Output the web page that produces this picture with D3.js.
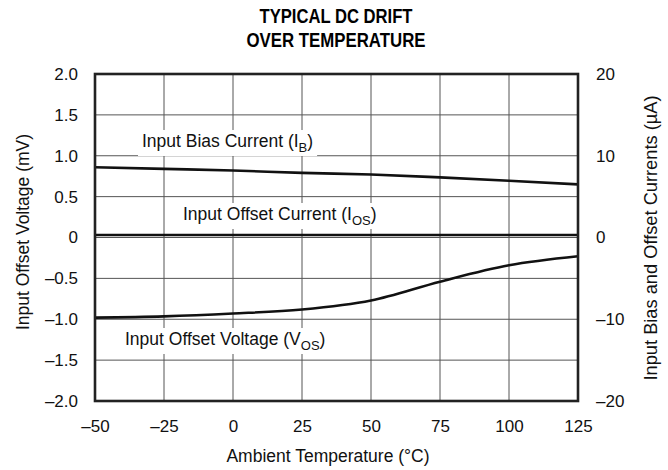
<!DOCTYPE html>
<html>
<head>
  <meta charset="UTF-8">
  <style>
    body { margin: 0; background: #fff; }
    svg { font-family: "Liberation Sans", Arial, sans-serif; }
  </style>
</head>
<body>
<svg></svg>
<script src="https://d3js.org/d3.v7.min.js"></script>
<script>

let width = 668, height = 470;

// temperature (°C)
let temps = [-50, -25, 0, 25, 50, 75, 100, 125];
// input bias current IB (µA, right axis)
let biasCurrent = [8.6, 8.4, 8.2, 7.9, 7.7, 7.35, 6.95, 6.5];
// input offset current IOS (µA, right axis)
let offsetCurrent = [0.3, 0.3, 0.3, 0.3, 0.3, 0.3, 0.3, 0.3];
// input offset voltage VOS (mV, left axis)
let offsetVoltage = [-0.98, -0.965, -0.93, -0.88, -0.77, -0.54, -0.34, -0.23];

let xTicks = [-50, -25, 0, 25, 50, 75, 100, 125];
let yLeftTicks = [2.0, 1.5, 1.0, 0.5, 0, -0.5, -1.0, -1.5, -2.0];
let yRightTicks = [20, 10, 0, -10, -20];

let svg = d3.select("svg")
    .attr("width", width)
    .attr("height", height);

let pLeft = 95, pRight = 578, pTop = 74, pBottom = 401;

let x = d3.scaleLinear().domain([-50, 125]).range([pLeft, pRight]);
let yL = d3.scaleLinear().domain([-2, 2]).range([pBottom, pTop]);
let yR = d3.scaleLinear().domain([-20, 20]).range([pBottom, pTop]);

let dash = v => (v < 0 ? "\u2013" : "");

// title
svg.append("text")
    .attr("x", 336).attr("y", 23)
    .attr("text-anchor", "middle")
    .attr("font-size", 20).attr("font-weight", "bold")
    .attr("textLength", 153).attr("lengthAdjust", "spacingAndGlyphs")
    .text("TYPICAL DC DRIFT");
svg.append("text")
    .attr("x", 336).attr("y", 47)
    .attr("text-anchor", "middle")
    .attr("font-size", 20).attr("font-weight", "bold")
    .attr("textLength", 179).attr("lengthAdjust", "spacingAndGlyphs")
    .text("OVER TEMPERATURE");

// grid
let grid = svg.append("g").attr("stroke", "#555").attr("stroke-width", 1);
grid.selectAll("line.v")
    .data(xTicks.slice(1, -1))
    .enter().append("line")
    .attr("x1", d => x(d)).attr("x2", d => x(d))
    .attr("y1", pTop).attr("y2", pBottom);
grid.selectAll("line.h")
    .data(yLeftTicks.slice(1, -1))
    .enter().append("line")
    .attr("x1", pLeft).attr("x2", pRight)
    .attr("y1", d => yL(d)).attr("y2", d => yL(d));

// axes (labels only)
let xAxis = svg.append("g")
    .attr("transform", "translate(0," + pBottom + ")")
    .call(d3.axisBottom(x).tickValues(xTicks).tickSize(0).tickPadding(19).tickFormat(d => dash(d) + Math.abs(d)));
let yAxisL = svg.append("g")
    .attr("transform", "translate(" + pLeft + ",0)")
    .call(d3.axisLeft(yL).tickValues(yLeftTicks).tickSize(0).tickPadding(17).tickFormat(d => d == 0 ? "0" : dash(d) + Math.abs(d).toFixed(1)));
let yAxisR = svg.append("g")
    .attr("transform", "translate(" + pRight + ",0)")
    .call(d3.axisRight(yR).tickValues(yRightTicks).tickSize(0).tickPadding(18).tickFormat(d => dash(d) + Math.abs(d)));
[xAxis, yAxisL, yAxisR].forEach(a => {
    a.select(".domain").remove();
    a.selectAll("text").attr("font-size", 17).attr("fill", "#111")
        .attr("font-family", "\"Liberation Sans\", Arial, sans-serif");
});

// axis titles
svg.append("text")
    .attr("x", 328).attr("y", 462)
    .attr("text-anchor", "middle").attr("font-size", 17.5).attr("fill", "#111")
    .text("Ambient Temperature (\u00B0C)");
svg.append("text")
    .attr("transform", "translate(29,232) rotate(-90)")
    .attr("text-anchor", "middle").attr("font-size", 17.5).attr("fill", "#111")
    .text("Input Offset Voltage (mV)");
svg.append("text")
    .attr("transform", "translate(657,238) rotate(-90)")
    .attr("text-anchor", "middle").attr("font-size", 17.5).attr("fill", "#111")
    .attr("textLength", 285).attr("lengthAdjust", "spacingAndGlyphs")
    .text("Input Bias and Offset Currents (\u00B5A)");

// curves
let lineR = d3.line().x((d, i) => x(temps[i])).y(d => yR(d)).curve(d3.curveMonotoneX);
let lineL = d3.line().x((d, i) => x(temps[i])).y(d => yL(d)).curve(d3.curveMonotoneX);

let curves = svg.append("g").attr("fill", "none").attr("stroke", "#111").attr("stroke-width", 2.6);
curves.append("path").attr("d", lineR(biasCurrent));
curves.append("path").attr("d", lineR(offsetCurrent));
curves.append("path").attr("d", lineL(offsetVoltage));

// frame
svg.append("rect")
    .attr("x", pLeft).attr("y", pTop)
    .attr("width", pRight - pLeft).attr("height", pBottom - pTop)
    .attr("fill", "none").attr("stroke", "#222").attr("stroke-width", 2.6);

// curve labels with white backing
function label(px, py, main, sub) {
    let g = svg.append("g");
    let bg = g.append("rect").attr("fill", "#fff");
    let t = g.append("text").attr("x", px).attr("y", py)
        .attr("font-size", 17.5).attr("fill", "#111");
    t.append("tspan").text(main + " (" + sub[0]);
    t.append("tspan").attr("dy", 5).attr("font-size", 13).text(sub[1]);
    t.append("tspan").attr("dy", -5).text(")");
    let b = t.node().getBBox();
    bg.attr("x", b.x - 4).attr("y", b.y - 1).attr("width", b.width + 8).attr("height", b.height + 2);
}
label(142, 147, "Input Bias Current", ["I", "B"]);
label(183, 220, "Input Offset Current", ["I", "OS"]);
label(125, 345, "Input Offset Voltage", ["V", "OS"]);

</script>
</body>
</html>
